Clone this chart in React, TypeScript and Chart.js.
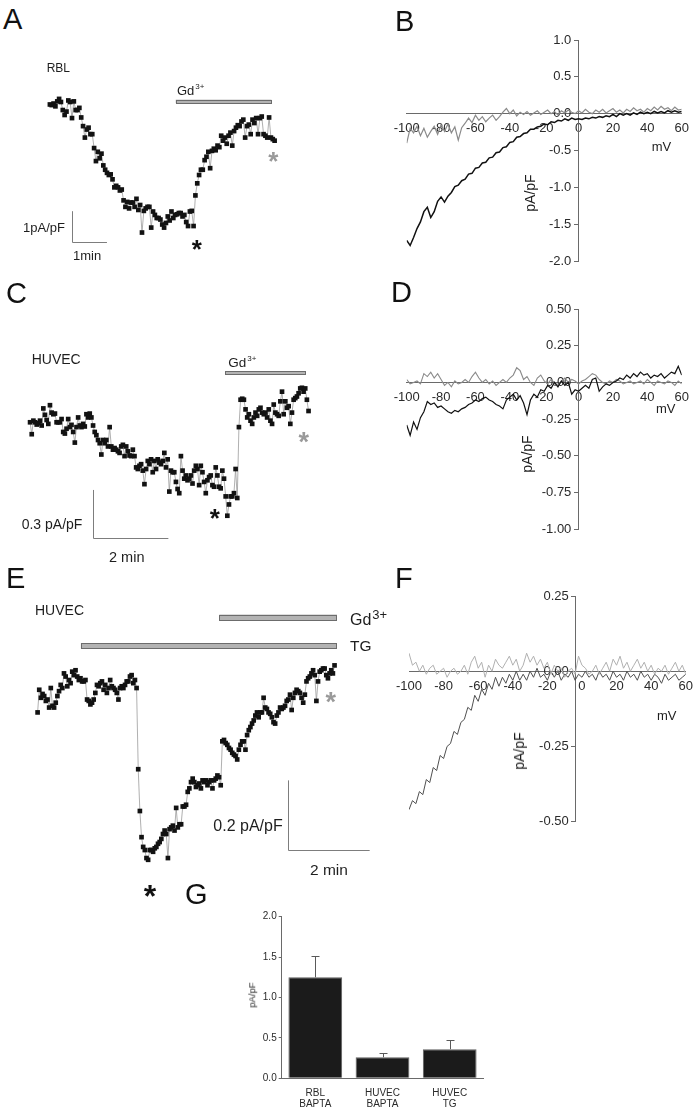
import React, { useEffect, useRef } from 'react';
import { Chart, registerables } from 'chart.js';

Chart.register(...registerables);

const FONT = '"Liberation Sans", Arial, Helvetica, sans-serif';
const INK = '#1e1e1e';

// ---------------- DATA ----------------
// Panel A: RBL time course (pA/pF), evenly sampled
const A_VALUES = [-0.08,-0.10,-0.05,-0.14,0.02,0.10,0.00,-0.26,-0.42,-0.31,0.05,0.00,-0.52,0.02,-0.26,-0.26,-0.19,-0.50,-0.78,-1.15,-0.89,-0.83,-1.04,-1.04,-1.49,-1.91,-1.61,-1.82,-1.67,-2.05,-2.19,-2.29,-2.36,-2.34,-2.50,-2.76,-2.71,-2.76,-2.86,-2.83,-3.18,-3.39,-3.23,-3.44,-3.25,-3.25,-3.39,-3.13,-3.49,-3.33,-4.22,-3.52,-3.44,-3.39,-3.39,-4.06,-3.54,-3.65,-3.75,-3.75,-3.80,-3.96,-4.06,-3.91,-3.70,-3.83,-3.54,-3.75,-3.65,-3.63,-3.59,-3.59,-3.70,-3.65,-3.88,-4.01,-3.54,-3.52,-4.01,-3.02,-2.63,-2.36,-2.19,-2.19,-1.88,-1.77,-1.61,-2.14,-1.58,-1.51,-1.56,-1.41,-1.46,-1.09,-1.25,-1.15,-1.35,-1.09,-0.99,-1.41,-0.94,-0.83,-0.75,-0.78,-0.63,-0.57,-1.15,-0.78,-0.73,-1.04,-0.57,-0.68,-0.52,-1.04,-0.52,-0.47,-1.04,-1.09,-1.15,-0.50,-1.15,-1.20,-1.25];
const A_DURATION_MIN = 6.34;
const A_GD_MIN = [3.55, 6.25];

// Panel C: HUVEC time course (pA/pF)
const C_VALUES = [-0.01,-0.084,0,-0.01,-0.024,-0.016,0,-0.03,0.076,0.036,0.004,-0.02,0.096,0.05,0.04,0.044,-0.01,-0.01,-0.01,0.01,-0.07,-0.08,-0.05,0.01,-0.04,-0.026,-0.07,-0.136,-0.04,0.02,-0.03,-0.04,-0.02,-0.036,0.04,0.02,0.044,0.02,-0.03,-0.07,-0.09,-0.12,-0.14,-0.21,-0.12,-0.14,-0.12,-0.16,-0.04,-0.16,-0.18,-0.17,-0.18,-0.19,-0.20,-0.16,-0.15,-0.22,-0.16,-0.19,-0.216,-0.22,-0.18,-0.22,-0.29,-0.30,-0.28,-0.27,-0.31,-0.394,-0.30,-0.25,-0.27,-0.24,-0.32,-0.25,-0.30,-0.24,-0.26,-0.27,-0.25,-0.20,-0.29,-0.24,-0.44,-0.31,-0.32,-0.32,-0.38,-0.424,-0.45,-0.22,-0.31,-0.36,-0.34,-0.37,-0.36,-0.34,-0.39,-0.31,-0.28,-0.30,-0.40,-0.28,-0.32,-0.38,-0.45,-0.37,-0.35,-0.34,-0.40,-0.41,-0.29,-0.34,-0.41,-0.42,-0.31,-0.36,-0.47,-0.59,-0.52,-0.47,-0.47,-0.45,-0.30,-0.48,-0.04,0.13,0.136,0.13,0.07,0.02,0.04,0,-0.02,0.02,0.05,0.03,0.07,0.08,0.05,0.04,0.05,0.02,0.07,0,-0.02,0.10,0.05,0.04,0.03,0.12,0.18,0.04,0.12,0.08,0.09,-0.02,0.05,0.13,0.14,0.15,0.17,0.20,0.204,0.18,0.20,0.13,0.06];
const C_DURATION_MIN = 7.35;
const C_GD_MIN = [5.15, 7.28];

// Panel E: HUVEC + TG time course (pA/pF)
const E_VALUES = [-0.070,-0.005,-0.028,-0.017,-0.023,-0.037,-0.033,-0.056,0,-0.051,-0.056,-0.042,-0.023,-0.009,0.009,0,0.042,0.033,0.005,0.023,0.014,0.047,0.037,0.051,0.033,0.023,0.028,0.019,0.019,0.023,-0.033,-0.037,-0.047,-0.042,-0.033,-0.014,0.009,0.005,0.014,0.019,-0.005,0.009,-0.014,0,0.023,0.005,0,-0.005,-0.014,-0.033,0,0.005,0,0.009,0.019,0.019,0.033,0.037,0.014,0.023,0,-0.233,-0.353,-0.428,-0.456,-0.465,-0.488,-0.493,-0.465,-0.465,-0.470,-0.460,-0.456,-0.447,-0.442,-0.433,-0.419,-0.409,-0.419,-0.488,-0.405,-0.400,-0.395,-0.409,-0.344,-0.400,-0.391,-0.391,-0.340,-0.340,-0.335,-0.298,-0.288,-0.270,-0.260,-0.270,-0.284,-0.279,-0.274,-0.288,-0.265,-0.270,-0.265,-0.279,-0.270,-0.265,-0.288,-0.265,-0.260,-0.251,-0.256,-0.279,-0.153,-0.149,-0.158,-0.163,-0.172,-0.177,-0.186,-0.191,-0.195,-0.205,-0.177,-0.163,-0.153,-0.153,-0.177,-0.135,-0.121,-0.112,-0.102,-0.093,-0.079,-0.070,-0.084,-0.070,-0.070,-0.028,-0.056,-0.060,-0.070,-0.074,-0.084,-0.098,-0.102,-0.079,-0.070,-0.056,-0.060,-0.056,-0.051,-0.037,-0.033,-0.019,-0.063,-0.028,-0.014,-0.005,-0.009,-0.014,-0.028,-0.042,-0.019,0.019,0.028,0.033,0.042,0.051,0.037,-0.037,0.019,0.047,0.051,0.056,0.056,0.037,0.028,0.042,0.051,0.042,0.065];
const E_DURATION_MIN = 7.27;
const E_GD_MIN = [4.45, 7.33];
const E_TG_MIN = [1.06, 7.33];

// I-V ramps: voltage (mV)
const IV_MV = [-100,-98,-96,-94,-92,-90,-88,-86,-84,-82,-80,-78,-76,-74,-72,-70,-68,-66,-64,-62,-60,-58,-56,-54,-52,-50,-48,-46,-44,-42,-40,-38,-36,-34,-32,-30,-28,-26,-24,-22,-20,-18,-16,-14,-12,-10,-8,-6,-4,-2,0,2,4,6,8,10,12,14,16,18,20,22,24,26,28,30,32,34,36,38,40,42,44,46,48,50,52,54,56,58,60];
const IV_X_TICKS = [-100,-80,-60,-40,-20,0,20,40,60];

// Panel B (pA/pF)
const B_BLACK = [-1.72,-1.79,-1.68,-1.56,-1.47,-1.33,-1.27,-1.41,-1.33,-1.19,-1.13,-1.20,-1.12,-1.07,-0.99,-0.97,-0.91,-0.89,-0.82,-0.81,-0.74,-0.73,-0.67,-0.66,-0.60,-0.59,-0.53,-0.52,-0.46,-0.45,-0.39,-0.38,-0.32,-0.31,-0.27,-0.26,-0.21,-0.21,-0.18,-0.17,-0.14,-0.15,-0.11,-0.12,-0.09,-0.10,-0.07,-0.09,-0.06,-0.08,-0.07,-0.08,-0.06,-0.07,-0.05,-0.06,-0.04,-0.05,-0.03,-0.04,-0.01,-0.04,0.00,-0.02,0.00,-0.02,0.01,-0.01,0.02,0.00,0.02,0.00,0.03,0.01,0.03,0.01,0.04,0.02,0.04,0.02,0.03];
const B_GRAY = [-0.40,-0.20,-0.26,-0.17,-0.30,-0.20,-0.32,-0.24,-0.17,-0.28,-0.15,-0.24,-0.14,-0.26,-0.18,-0.36,-0.19,-0.13,-0.06,-0.12,-0.02,-0.09,-0.04,-0.11,-0.06,-0.02,-0.09,-0.04,0.02,0.07,0.00,0.05,-0.03,0.02,-0.01,0.03,-0.02,0.01,0.04,-0.01,0.02,0.05,0.00,0.03,-0.02,0.04,0.01,0.05,0.02,0.00,0.04,0.01,0.06,0.02,0.00,0.05,0.02,0.06,0.01,0.04,0.07,0.02,0.05,0.01,0.06,0.03,0.08,0.04,0.06,0.02,0.07,0.04,0.09,0.05,0.10,0.06,0.08,0.04,0.09,0.05,0.06];
const B_Y_TICKS = [-2,-1.5,-1,-0.5,0,0.5,1];

// Panel D (pA/pF)
const D_BLACK = [-0.29,-0.36,-0.27,-0.32,-0.24,-0.20,-0.13,-0.15,-0.14,-0.17,-0.16,-0.18,-0.20,-0.21,-0.19,-0.20,-0.18,-0.17,-0.15,-0.14,-0.12,-0.13,-0.11,-0.10,-0.12,-0.13,-0.15,-0.16,-0.18,-0.12,-0.10,-0.08,-0.12,-0.09,-0.14,-0.22,-0.12,-0.08,-0.10,-0.05,-0.06,-0.02,-0.04,0.00,-0.03,0.01,-0.02,0.00,-0.08,-0.05,-0.06,-0.04,-0.02,-0.04,0.02,0.03,-0.06,-0.03,-0.01,-0.02,0.00,0.01,0.03,0.02,0.05,0.03,0.06,0.04,0.07,0.05,0.06,0.03,0.05,0.04,0.06,0.03,0.05,0.07,0.06,0.11,0.05];
const D_GRAY = [0.02,-0.01,0.00,0.01,-0.01,0.06,0.04,0.07,0.03,0.06,0.02,-0.02,0.00,-0.03,0.01,-0.01,0.00,0.02,0.00,0.04,0.07,0.03,0.00,0.02,-0.01,0.01,-0.02,0.00,0.02,0.00,0.03,0.05,0.10,0.08,0.02,0.04,0.00,-0.02,0.03,0.05,0.01,-0.01,0.02,0.00,-0.02,0.01,0.03,0.00,0.02,0.01,-0.01,0.01,0.02,0.04,0.06,0.05,0.02,0.00,-0.01,0.01,0.00,0.02,0.01,-0.01,0.00,0.01,-0.01,0.00,0.01,-0.01,0.02,0.00,-0.02,0.01,0.00,-0.01,0.01,0.00,-0.02,0.01,-0.01];
const D_Y_TICKS = [-1,-0.75,-0.5,-0.25,0,0.25,0.5];

// Panel F (pA/pF)
const F_DARK = [-0.46,-0.43,-0.44,-0.40,-0.41,-0.36,-0.37,-0.32,-0.33,-0.28,-0.29,-0.25,-0.24,-0.20,-0.21,-0.17,-0.16,-0.12,-0.13,-0.08,-0.10,-0.06,-0.08,-0.04,-0.06,-0.02,-0.05,-0.02,-0.04,-0.01,-0.03,0.00,-0.03,-0.01,-0.03,0.00,-0.02,0.01,-0.02,-0.01,-0.03,0.00,-0.02,0.00,-0.03,-0.01,-0.02,0.00,-0.03,-0.01,-0.02,0.00,-0.02,-0.01,-0.03,0.00,-0.02,-0.01,-0.03,0.00,-0.02,-0.01,-0.03,0.00,-0.02,-0.01,-0.03,0.00,-0.02,-0.01,-0.03,-0.01,-0.02,-0.04,-0.01,-0.03,-0.02,-0.01,-0.03,-0.02,-0.01];
const F_LIGHT = [0.06,0.02,0.03,0.00,0.02,-0.01,0.01,0.02,-0.01,0.00,0.01,-0.02,0.00,0.01,-0.01,0.00,0.02,-0.01,0.03,0.05,0.01,0.03,-0.02,0.02,0.00,0.04,0.02,0.01,0.03,0.05,0.02,0.04,0.00,0.02,0.06,0.03,0.05,0.02,0.04,0.01,0.03,-0.01,0.02,0.00,0.01,-0.02,0.00,0.01,-0.01,0.05,0.02,0.01,-0.01,0.00,0.02,-0.01,0.01,0.03,0.00,0.04,0.02,0.05,0.01,0.03,0.00,0.02,0.04,0.01,0.03,0.00,0.02,-0.01,0.01,0.00,0.02,-0.01,0.01,0.03,0.00,0.02,-0.01];
const F_Y_TICKS = [-0.5,-0.25,0,0.25];

// Panel G: summary bars
const G_LABELS = [['RBL', 'BAPTA'], ['HUVEC', 'BAPTA'], ['HUVEC', 'TG']];
const G_MEANS = [1.25, 0.26, 0.36];
const G_SEM = [0.26, 0.05, 0.11];
const G_Y_TICKS = [0, 0.5, 1, 1.5, 2];

// ---------------- LAYOUT (pixels) ----------------
const RECT_A = { x: 0, y: 40, w: 340, h: 240 };
const RECT_C = { x: 0, y: 320, w: 340, h: 240 };
const RECT_E = { x: 0, y: 590, w: 390, h: 290 };
const RECT_B = { x: 360, y: 20, w: 340, h: 260 };
const RECT_D = { x: 360, y: 290, w: 340, h: 260 };
const RECT_F = { x: 360, y: 570, w: 340, h: 270 };
const RECT_G = { x: 230, y: 905, w: 270, h: 209 };

// mapping of value 0 / scale in pixels for the hidden-axis time courses
const MAP_A = { t0px: 47, pxPerMin: 36.3, v0px: 100, pxPerUnit: 32 };
const MAP_C = { t0px: 26.7, pxPerMin: 38.8, v0px: 420, pxPerUnit: 166.7 };
const MAP_E = { t0px: 34.3, pxPerMin: 41.7, v0px: 686.7, pxPerUnit: 358.3 };

function ranges(r: any, m: any) {
  const xmin = -(m.t0px - r.x) / m.pxPerMin;
  const xmax = xmin + r.w / m.pxPerMin;
  const ymax = (m.v0px - r.y) / m.pxPerUnit;
  const ymin = ymax - r.h / m.pxPerUnit;
  return { xmin, xmax, ymin, ymax };
}

function marksPlugin(bars: any[], sb: any) {
  return {
    id: 'marks',
    afterDatasetsDraw(chart: any) {
      const { ctx } = chart;
      const x = chart.scales.x, y = chart.scales.y;
      ctx.save();
      for (const b of bars) {
        const x0 = x.getPixelForValue(b.t0), x1 = x.getPixelForValue(b.t1), yc = y.getPixelForValue(b.v);
        ctx.fillStyle = '#b3b3b3';
        ctx.fillRect(x0, yc - b.h / 2, x1 - x0, b.h);
        ctx.strokeStyle = '#6c6c6c';
        ctx.lineWidth = 1;
        ctx.strokeRect(Math.round(x0) + 0.5, Math.round(yc - b.h / 2) + 0.5, Math.round(x1 - x0) - 1, Math.round(b.h) - 1);
      }
      const sx = Math.round(x.getPixelForValue(sb.t)) + 0.5;
      const sy = Math.round(y.getPixelForValue(sb.v)) + 0.5;
      const ex = x.getPixelForValue(sb.t + sb.dt);
      const ey = y.getPixelForValue(sb.v + sb.dv);
      ctx.strokeStyle = '#7d7d7d';
      ctx.lineWidth = 1;
      ctx.beginPath();
      ctx.moveTo(sx, ey);
      ctx.lineTo(sx, sy);
      ctx.lineTo(ex, sy);
      ctx.stroke();
      ctx.restore();
    },
  };
}

function traceConfig(values: number[], duration: number, rect: any, map: any, bars: any[], sb: any) {
  const r = ranges(rect, map);
  const pts = values.map((v, i) => ({ x: (i * duration) / (values.length - 1), y: v }));
  return {
    type: 'line',
    data: {
      datasets: [{
        data: pts,
        borderColor: '#9c9c9c',
        borderWidth: 0.8,
        pointStyle: 'rect',
        pointRadius: 3.3,
        pointBackgroundColor: '#121212',
        pointBorderColor: '#121212',
        pointBorderWidth: 0,
        tension: 0,
      }],
    },
    options: {
      animation: false,
      responsive: false,
      devicePixelRatio: 1,
      events: [],
      layout: { padding: 0 },
      plugins: { legend: { display: false }, tooltip: { enabled: false } },
      scales: {
        x: { type: 'linear', display: false, min: r.xmin, max: r.xmax },
        y: { type: 'linear', display: false, min: r.ymin, max: r.ymax },
      },
    },
    plugins: [marksPlugin(bars, sb)],
  };
}

function ivConfig(datasets: any[], yTicks: number[], decimals: number, yAxisAt: number, pad: any) {
  const tickFont = { family: FONT, size: 13 };
  return {
    type: 'line',
    data: { datasets },
    options: {
      animation: false,
      responsive: false,
      devicePixelRatio: 1,
      events: [],
      layout: { padding: pad },
      plugins: { legend: { display: false }, tooltip: { enabled: false } },
      scales: {
        x: {
          type: 'linear', min: -100, max: 60, position: { y: 0 },
          grid: { display: false, drawTicks: false },
          border: { display: true, color: '#6a6a6a', width: 1 },
          ticks: { font: tickFont, color: '#2a2a2a', padding: 7, autoSkip: false, maxRotation: 0, callback: (v: any) => String(v) },
          afterBuildTicks: (s: any) => { s.ticks = IV_X_TICKS.map((v) => ({ value: v })); },
        },
        y: {
          type: 'linear', min: yTicks[0], max: yTicks[yTicks.length - 1], position: { x: yAxisAt },
          grid: { display: true, drawOnChartArea: false, drawTicks: true, tickLength: 4, color: '#6a6a6a' },
          border: { display: true, color: '#6a6a6a', width: 1 },
          ticks: { font: tickFont, color: '#2a2a2a', padding: 3, callback: (v: any) => Number(v).toFixed(decimals) + '  ' },
          afterBuildTicks: (s: any) => { s.ticks = yTicks.map((v) => ({ value: v })); },
        },
      },
    },
  };
}

function ivSet(values: number[], color: string, width: number) {
  return {
    data: values.map((v, i) => ({ x: IV_MV[i], y: v })),
    borderColor: color,
    borderWidth: width,
    pointRadius: 0,
    tension: 0,
  };
}

const errorBarPlugin = {
  id: 'errbars',
  afterDatasetsDraw(chart: any) {
    const { ctx } = chart;
    const meta = chart.getDatasetMeta(0);
    const y = chart.scales.y;
    ctx.save();
    ctx.strokeStyle = '#5a5a5a';
    ctx.lineWidth = 1;
    meta.data.forEach((bar: any, i: number) => {
      const x = Math.round(bar.x) + 0.5;
      const top = Math.round(y.getPixelForValue(G_MEANS[i] + G_SEM[i])) + 0.5;
      const base = y.getPixelForValue(G_MEANS[i]);
      ctx.beginPath();
      ctx.moveTo(x, base);
      ctx.lineTo(x, top);
      ctx.moveTo(x - 4, top);
      ctx.lineTo(x + 4, top);
      ctx.stroke();
    });
    ctx.restore();
  },
};

function gConfig() {
  const f = { family: FONT, size: 10 };
  return {
    type: 'bar',
    data: {
      labels: G_LABELS,
      datasets: [{
        data: G_MEANS,
        backgroundColor: '#1b1b1b',
        borderColor: '#5e5e5e',
        borderWidth: 1,
        barPercentage: 0.8,
        categoryPercentage: 1.0,
      }],
    },
    options: {
      animation: false,
      responsive: false,
      devicePixelRatio: 1,
      events: [],
      layout: { padding: { top: 11.7, right: 16.7, left: 0, bottom: 0 } },
      plugins: { legend: { display: false }, tooltip: { enabled: false } },
      scales: {
        x: {
          grid: { display: false, drawTicks: false },
          border: { display: true, color: '#6a6a6a' },
          ticks: { font: { ...f, lineHeight: 1.15 }, color: '#2a2a2a', padding: 9, maxRotation: 0 },
          afterFit: (s: any) => { s.height = 35.7; },
        },
        y: {
          min: 0, max: 2,
          grid: { display: true, drawOnChartArea: false, drawTicks: true, tickLength: 3, color: '#6a6a6a' },
          border: { display: true, color: '#6a6a6a' },
          ticks: { font: f, color: '#2a2a2a', padding: 2, callback: (v: any) => Number(v).toFixed(1) },
          afterBuildTicks: (s: any) => { s.ticks = G_Y_TICKS.map((v) => ({ value: v })); },
          afterFit: (s: any) => { s.width = 51.7; },
        },
      },
    },
    plugins: [errorBarPlugin],
  };
}

// ---------------- COMPONENTS ----------------
function ChartBox({ rect, make }: { rect: any; make: () => any }) {
  const ref = useRef<HTMLCanvasElement>(null);
  useEffect(() => {
    const chart = new Chart(ref.current as HTMLCanvasElement, make());
    return () => chart.destroy();
  }, []);
  return (
    <canvas
      ref={ref}
      width={rect.w}
      height={rect.h}
      style={{ position: 'absolute', left: rect.x, top: rect.y, width: rect.w, height: rect.h }}
    />
  );
}

function T({ x, y, s, c = INK, w = 'normal', a = 'start', children }: any) {
  return (
    <div
      style={{
        position: 'absolute', left: x, top: y - 0.8465 * s, fontSize: s, lineHeight: 1,
        whiteSpace: 'nowrap', color: c, fontWeight: w, fontFamily: FONT,
        transform: a === 'middle' ? 'translateX(-50%)' : undefined, zIndex: 2,
      }}
    >
      {children}
    </div>
  );
}

function Star({ cx, cy, s, c }: any) {
  return <T x={cx} y={cy + 0.56 * s} s={s} c={c} w="bold" a="middle">*</T>;
}

function R({ cx, cy, s, children }: any) {
  return (
    <div
      style={{
        position: 'absolute', left: cx, top: cy, fontSize: s, lineHeight: 1, whiteSpace: 'nowrap',
        color: INK, fontFamily: FONT, transform: 'translate(-50%,-50%) rotate(-90deg)', zIndex: 2,
      }}
    >
      {children}
    </div>
  );
}

function Sup({ s, dy, children }: any) {
  return <span style={{ fontSize: s, position: 'relative', top: dy, marginLeft: 1 }}>{children}</span>;
}

export default function App() {
  const makeA = () => traceConfig(A_VALUES, A_DURATION_MIN, RECT_A, MAP_A,
    [{ t0: A_GD_MIN[0], t1: A_GD_MIN[1], v: 0.02, h: 3.5 }],
    { t: 0.61, v: -4.53, dt: 1, dv: 1 });
  const makeC = () => traceConfig(C_VALUES, C_DURATION_MIN, RECT_C, MAP_C,
    [{ t0: C_GD_MIN[0], t1: C_GD_MIN[1], v: 0.295, h: 3.5 }],
    { t: 1.65, v: -0.73, dt: 2, dv: 0.3 });
  const makeE = () => traceConfig(E_VALUES, E_DURATION_MIN, RECT_E, MAP_E,
    [{ t0: E_GD_MIN[0], t1: E_GD_MIN[1], v: 0.203, h: 5.5 }, { t0: E_TG_MIN[0], t1: E_TG_MIN[1], v: 0.121, h: 5.5 }],
    { t: 6.13, v: -0.465, dt: 2, dv: 0.2 });
  const makeB = () => ivConfig([ivSet(B_GRAY, '#8a8a8a', 1.2), ivSet(B_BLACK, '#111111', 1.5)], B_Y_TICKS, 1, 0,
    { left: 46.7, right: 18.3, top: 20, bottom: 19 });
  const makeD = () => ivConfig([ivSet(D_BLACK, '#111111', 1.2), ivSet(D_GRAY, '#8a8a8a', 1.1)], D_Y_TICKS, 2, 0,
    { left: 46.7, right: 18.3, top: 19, bottom: 20.7 });
  const makeF = () => ivConfig([ivSet(F_LIGHT, '#b0b0b0', 1), ivSet(F_DARK, '#505050', 1)], F_Y_TICKS, 2, -3.5,
    { left: 49, right: 11, top: 26, bottom: 18.3 });

  return (
    <div style={{ position: 'absolute', left: 0, top: 0, width: 700, height: 1114, background: '#fff', overflow: 'hidden', fontFamily: FONT }}>
      <ChartBox rect={RECT_A} make={makeA} />
      <ChartBox rect={RECT_C} make={makeC} />
      <ChartBox rect={RECT_E} make={makeE} />
      <ChartBox rect={RECT_B} make={makeB} />
      <ChartBox rect={RECT_D} make={makeD} />
      <ChartBox rect={RECT_F} make={makeF} />
      <ChartBox rect={RECT_G} make={gConfig} />

      {/* panel letters */}
      <T x={3} y={30} s={29} c="#111">A</T>
      <T x={395} y={31.5} s={29} c="#111">B</T>
      <T x={6} y={304} s={29} c="#111">C</T>
      <T x={391} y={303} s={29} c="#111">D</T>
      <T x={6} y={589} s={29} c="#111">E</T>
      <T x={395} y={589} s={29} c="#111">F</T>
      <T x={185} y={905} s={29} c="#111">G</T>

      {/* panel A */}
      <T x={46.7} y={71.7} s={12}>RBL</T>
      <T x={177} y={95} s={13}>Gd<Sup s={8} dy={-6}>3+</Sup></T>
      <T x={23} y={232} s={13}>1pA/pF</T>
      <T x={73} y={260} s={13}>1min</T>
      <Star cx={196.7} cy={243.3} s={26} c="#111" />
      <Star cx={273.3} cy={155.3} s={26} c="#9a9a9a" />

      {/* panel B */}
      <T x={651.7} y={151.5} s={13}>mV</T>
      <R cx={530} cy={193} s={14}>pA/pF</R>

      {/* panel C */}
      <T x={31.7} y={364} s={14}>HUVEC</T>
      <T x={228.3} y={367.3} s={13.5}>Gd<Sup s={8} dy={-6}>3+</Sup></T>
      <T x={21.7} y={529} s={14}>0.3 pA/pF</T>
      <T x={109} y={562} s={14.5}>2 min</T>
      <Star cx={214.7} cy={512} s={26} c="#111" />
      <Star cx={303.7} cy={437} s={27} c="#9a9a9a" />

      {/* panel D */}
      <T x={656} y={413} s={13}>mV</T>
      <R cx={526.7} cy={454} s={14}>pA/pF</R>

      {/* panel E */}
      <T x={35} y={615} s={14}>HUVEC</T>
      <T x={350} y={626} s={16}>Gd<Sup s={13} dy={-6}>3+</Sup></T>
      <T x={350} y={650.7} s={15.5}>TG</T>
      <T x={213.3} y={832} s={16}>0.2 pA/pF</T>
      <T x={310} y={875} s={15.5}>2 min</T>
      <Star cx={150} cy={889} s={32} c="#111" />
      <Star cx={330.8} cy={696.7} s={27} c="#9a9a9a" />

      {/* panel F */}
      <T x={657} y={720} s={13}>mV</T>
      <R cx={519} cy={751} s={14}>pA/pF</R>

      {/* panel G */}
      <R cx={252} cy={995} s={9.5}>pA/pF</R>
    </div>
  );
}
